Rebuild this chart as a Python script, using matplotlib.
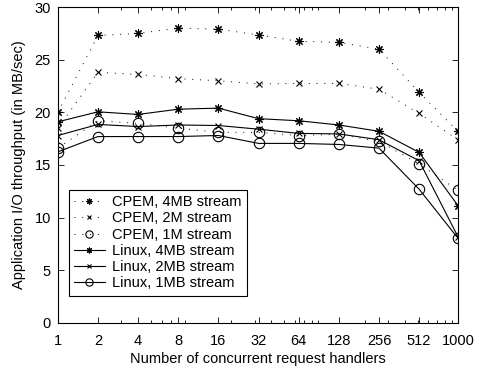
import numpy as np
import matplotlib
matplotlib.use('Agg')
import matplotlib.pyplot as plt
from matplotlib.ticker import FixedLocator, NullFormatter

plt.rcParams['font.family'] = ['Liberation Sans', 'DejaVu Sans']

# concurrent request handlers
handlers = [1, 2, 4, 8, 16, 32, 64, 128, 256, 512, 1000]
tick_labels = ['1', '2', '4', '8', '16', '32', '64', '128', '256', '512', '1000']

# throughput in MB/sec
cpem_4mb = [20.0, 27.3, 27.5, 28.0, 27.9, 27.35, 26.75, 26.65, 26.0, 21.9, 18.2]
cpem_2m = [18.5, 23.8, 23.6, 23.2, 23.0, 22.7, 22.75, 22.75, 22.2, 19.9, 17.4]
cpem_1m = [16.6, 19.2, 18.95, 18.5, 18.1, 18.1, 17.8, 17.9, 17.25, 15.1, 12.6]
linux_4mb = [19.1, 20.05, 19.8, 20.3, 20.4, 19.4, 19.2, 18.8, 18.2, 16.2, 11.15]
linux_2mb = [17.8, 18.85, 18.65, 18.8, 18.75, 18.4, 18.0, 17.95, 17.4, 15.4, 8.2]
linux_1mb = [16.25, 17.7, 17.7, 17.7, 17.8, 17.05, 17.05, 16.95, 16.6, 12.7, 8.05]

fs = 10.5

fig = plt.figure(figsize=(4.82, 3.72), dpi=100)
ax = fig.add_axes([0.120, 0.132, 0.830, 0.849])

star = (8, 2, 0)
dot = (0, (1, 7))
ax.plot(handlers, cpem_4mb, color='k', lw=0.7, linestyle=dot, marker=star, ms=6, mew=0.8,
        label='CPEM, 4MB stream')
ax.plot(handlers, cpem_2m, color='k', lw=0.7, linestyle=dot, marker='x', ms=4.5, mew=0.8,
        label='CPEM, 2M stream')
ax.plot(handlers, cpem_1m, color='k', lw=0.7, linestyle=dot, marker='o', ms=7.5, mew=0.8,
        mfc='none', label='CPEM, 1M stream')
ax.plot(handlers, linux_4mb, color='k', lw=0.8, marker=star, ms=6, mew=0.8,
        label='Linux, 4MB stream')
ax.plot(handlers, linux_2mb, color='k', lw=0.8, marker='x', ms=4.5, mew=0.8,
        label='Linux, 2MB stream')
ax.plot(handlers, linux_1mb, color='k', lw=0.8, marker='o', ms=7.5, mew=0.8,
        mfc='none', label='Linux, 1MB stream')

ax.set_xscale('log')
ax.set_xlim(1, 1000)
ax.set_ylim(0, 30)
ax.xaxis.set_major_locator(FixedLocator(handlers))
ax.set_xticklabels(tick_labels)
minor = [m * 10 ** e for e in range(3) for m in range(2, 10)]
ax.xaxis.set_minor_locator(FixedLocator(minor))
ax.xaxis.set_minor_formatter(NullFormatter())
ax.set_yticks(np.arange(0, 31, 5))

ax.tick_params(which='both', direction='in', top=True, right=True, labelsize=fs,
               width=0.6)
ax.tick_params(which='major', length=4)
ax.tick_params(which='minor', length=2)
ax.tick_params(axis='x', which='major', pad=8)
ax.tick_params(axis='y', which='major', pad=5)
for s in ax.spines.values():
    s.set_linewidth(0.8)

ax.set_xlabel('Number of concurrent request handlers', fontsize=fs, labelpad=3)
ax.set_ylabel('Application I/O throughput (in MB/sec)', fontsize=fs, labelpad=6)

leg = ax.legend(loc='lower left', bbox_to_anchor=(0.027, 0.086), fontsize=fs,
                handlelength=2.1, handletextpad=0.5, labelspacing=0.15,
                borderpad=0.38, borderaxespad=0, fancybox=False, framealpha=1)
leg.get_frame().set_edgecolor('k')
leg.get_frame().set_linewidth(0.8)
for h in leg.legend_handles:
    h.set_markersize(h.get_markersize() * 0.7)

fig.savefig('out.png', dpi=100)
